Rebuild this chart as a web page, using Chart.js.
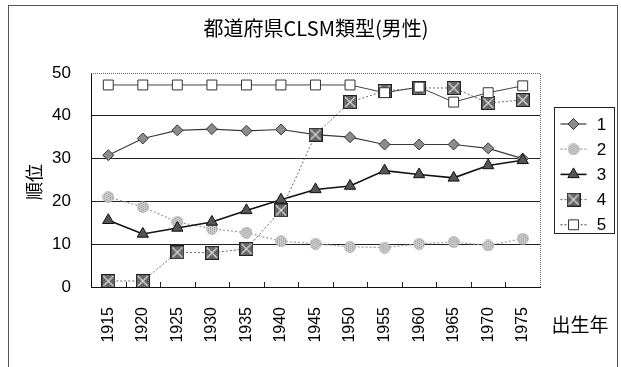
<!DOCTYPE html>
<html>
<head>
<meta charset="utf-8">
<script src="https://cdn.jsdelivr.net/npm/chart.js@4/dist/chart.umd.min.js"></script>
<style>
html,body{margin:0;padding:0;background:#fff;}
#wrap{position:relative;width:621px;height:367px;}
</style>
</head>
<body>
<div id="wrap"><canvas id="c" width="621" height="367"></canvas></div>
<script>
const chartTitle = "都道府県CLSM類型(男性)";
const yAxisTitle = "順位";
const xAxisTitle = "出生年";
const years = ["1915","1920","1925","1930","1935","1940","1945","1950","1955","1960","1965","1970","1975"];
const seriesNames = ["1","2","3","4","5"];
const type1 = [30.8, 34.7, 36.6, 36.9, 36.5, 36.8, 35.6, 35.0, 33.3, 33.3, 33.3, 32.4, 30.0];
const type2 = [21.0, 18.7, 15.2, 13.6, 12.7, 10.7, 10.1, 9.4, 9.2, 10.1, 10.5, 9.7, 11.3];
const type3 = [15.6, 12.4, 13.8, 15.2, 17.9, 20.4, 22.8, 23.6, 27.2, 26.3, 25.5, 28.4, 29.6];
const type4 = [1.4, 1.4, 8.1, 8.0, 8.9, 17.9, 35.6, 43.2, 45.8, 46.5, 46.5, 43.0, 43.7];
const type5 = [47.2, 47.2, 47.2, 47.2, 47.2, 47.2, 47.2, 47.2, 45.4, 46.7, 43.2, 45.4, 47.0];
const yTicks = [0, 10, 20, 30, 40, 50];

function makeBox(){
  const s = 14, cv = document.createElement('canvas');
  cv.width = s; cv.height = s;
  const g = cv.getContext('2d');
  g.fillStyle = '#5c5c5c'; g.fillRect(0,0,s,s);
  g.fillStyle = '#8a8a8a';
  for (let i=0;i<s;i+=2) for (let j=(i/2)%2;j<s;j+=2) g.fillRect(i,j,1,1);
  g.strokeStyle = '#dcdcdc'; g.lineWidth = 1.2;
  g.beginPath(); g.moveTo(2,2); g.lineTo(s-2,s-2); g.moveTo(s-2,2); g.lineTo(2,s-2); g.stroke();
  g.strokeStyle = '#222'; g.lineWidth = 1; g.strokeRect(0.5,0.5,s-1,s-1);
  return cv;
}
function makeSpeckle(){
  const s = 12, cv = document.createElement('canvas');
  cv.width = s; cv.height = s;
  const g = cv.getContext('2d');
  g.beginPath(); g.arc(s/2,s/2,s/2-0.5,0,Math.PI*2); g.fillStyle='#d0d0d0'; g.fill();
  g.save(); g.clip(); g.fillStyle='#8e8e8e';
  for (let i=0;i<s;i+=2) for (let j=(i/2)%2;j<s;j+=2) g.fillRect(i,j,1,1);
  g.restore();
  g.strokeStyle='#999'; g.lineWidth=1; g.setLineDash([1,1]); g.stroke();
  return cv;
}
const boxImg = makeBox();
const speckImg = makeSpeckle();

const styles = [
  {color:'#3a3a3a', width:1.2, dash:[], point:'rectRot', radius:5.5, bg:'#8c8c8c', border:'#333'},
  {color:'#9a9a9a', width:1.2, dash:[2,2], point:speckImg, radius:6, bg:'#d0d0d0', border:'#999'},
  {color:'#111', width:1.6, dash:[], point:'triangle', radius:6.5, bg:'#555', border:'#111'},
  {color:'#6a6a6a', width:1, dash:[2,2], point:boxImg, radius:7, bg:'#5c5c5c', border:'#222'},
  {color:'#444', width:1, dash:[], point:'rect', radius:7, bg:'#fff', border:'#333'}
];
const allData = [type1, type2, type3, type4, type5];

const datasets = allData.map((d,i)=>({
  label: seriesNames[i],
  data: d,
  borderColor: styles[i].color,
  borderWidth: styles[i].width,
  borderDash: styles[i].dash,
  pointStyle: styles[i].point,
  pointRadius: styles[i].radius,
  pointBackgroundColor: styles[i].bg,
  pointBorderColor: styles[i].border,
  pointBorderWidth: 1,
  tension: 0,
  fill: false,
  order: 5 - i
}));

const decor = {
  id: 'decor',
  beforeDatasetsDraw(chart){
    const {ctx, chartArea:a, scales:{x}} = chart;
    ctx.save();
    ctx.strokeStyle = '#666'; ctx.lineWidth = 1; ctx.setLineDash([1,1]);
    ctx.beginPath();
    ctx.moveTo(a.left, a.top+0.5); ctx.lineTo(a.right+0.5, a.top+0.5); ctx.lineTo(a.right+0.5, a.bottom);
    ctx.stroke();
    ctx.setLineDash([]);
    ctx.strokeStyle = '#222';
    const n = years.length;
    for (let i=1;i<n;i++){
      const px = Math.round((x.getPixelForValue(i-1)+x.getPixelForValue(i))/2)+0.5;
      ctx.beginPath(); ctx.moveTo(px, a.bottom); ctx.lineTo(px, a.bottom-5); ctx.stroke();
    }
    ctx.restore();
  },
  afterDraw(chart){
    const {ctx} = chart;
    ctx.save();
    ctx.strokeStyle = '#555'; ctx.lineWidth = 1;
    ctx.strokeRect(8.5, 5.5, 609, 400);
    ctx.fillStyle = '#000';
    ctx.font = '20px "Noto Sans CJK JP", "Liberation Sans", sans-serif';
    ctx.textAlign = 'center'; ctx.textBaseline = 'middle';
    ctx.fillText(chartTitle, 316, 28);
    ctx.save();
    ctx.translate(34, 182); ctx.rotate(-Math.PI/2);
    ctx.font = '18px "Noto Sans CJK JP", sans-serif';
    ctx.fillText(yAxisTitle, 0, 0);
    ctx.restore();
    ctx.font = '19px "Noto Sans CJK JP", sans-serif';
    ctx.fillText(xAxisTitle, 580, 325);
    const lx = 554.5, ly = 107.5, lw = 60, lh = 126;
    ctx.strokeStyle = '#222'; ctx.lineWidth = 1; ctx.setLineDash([]);
    ctx.fillStyle = '#fff';
    ctx.fillRect(lx, ly, lw, lh); ctx.strokeRect(lx, ly, lw, lh);
    datasets.forEach((ds,i)=>{
      const yy = ly + 16.5 + i*25.2;
      ctx.save();
      ctx.strokeStyle = ds.borderColor; ctx.lineWidth = ds.borderWidth;
      ctx.setLineDash(i===0||i===2 ? [] : [2,2]);
      ctx.beginPath(); ctx.moveTo(lx+6, yy); ctx.lineTo(lx+32, yy); ctx.stroke();
      ctx.setLineDash([]);
      ctx.fillStyle = ds.pointBackgroundColor; ctx.strokeStyle = ds.pointBorderColor; ctx.lineWidth = 1;
      Chart.helpers.drawPoint(ctx, {pointStyle: ds.pointStyle, radius: ds.pointRadius, rotation: 0, borderWidth: 1}, lx+19, yy);
      ctx.restore();
      ctx.fillStyle = '#000';
      ctx.font = '17px "Liberation Sans", Arial, sans-serif';
      ctx.textAlign = 'center'; ctx.textBaseline = 'middle';
      ctx.fillText(ds.label, lx+47, yy+1);
    });
    ctx.restore();
  }
};

new Chart(document.getElementById('c'), {
  type: 'line',
  data: { labels: years, datasets },
  options: {
    responsive: false,
    animation: false,
    devicePixelRatio: 1,
    layout: { padding: { top: 73, right: 81, bottom: 0, left: 0 } },
    plugins: { legend: { display: false }, title: { display: false }, tooltip: { enabled: false } },
    scales: {
      x: {
        type: 'category',
        offset: true,
        grid: { display: false, drawTicks: false },
        border: { display: true, color: '#111', width: 1 },
        ticks: {
          minRotation: 90, maxRotation: 90, autoSkip: false, padding: 20,
          color: '#000', font: { family: '"Liberation Sans", Arial, sans-serif', size: 16 }
        },
        afterFit(s){ s.height = 80; }
      },
      y: {
        min: 0, max: 50,
        afterBuildTicks(s){ s.ticks = yTicks.map(v=>({value:v})); },
        grid: {
          drawTicks: false,
          color: (c)=> (c.tick && (c.tick.value === 0 || c.tick.value === 50)) ? 'rgba(0,0,0,0)' : '#222',
          lineWidth: 1
        },
        border: { display: true, color: '#111', width: 1 },
        ticks: {
          padding: 20, color: '#000',
          font: { family: '"Liberation Sans", Arial, sans-serif', size: 17 }
        },
        afterFit(s){ s.width = 91; }
      }
    }
  },
  plugins: [decor]
});
</script>
</body>
</html>
